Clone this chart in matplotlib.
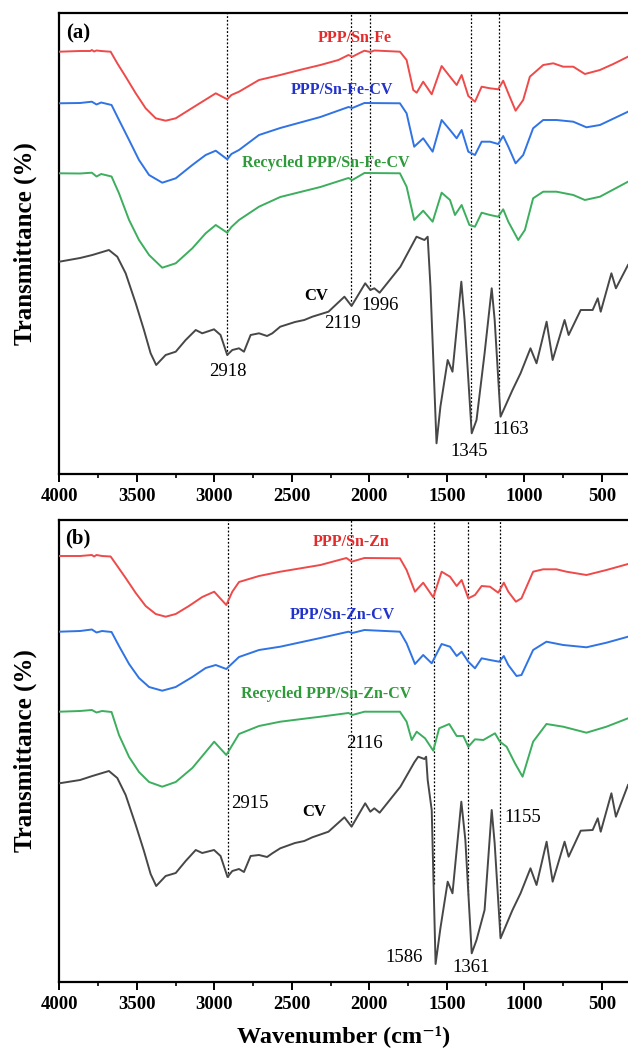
import numpy as np
import matplotlib
matplotlib.use("Agg")
import matplotlib.pyplot as plt
from matplotlib.ticker import MultipleLocator

plt.rcParams['font.family'] = ['Liberation Serif', 'DejaVu Serif']

# ---------------- Panel (a) data (wavenumber, stacked transmittance read as depth) -------------
a_red_wn = [4000, 3866, 3800, 3790, 3776, 3760, 3730, 3690, 3669, 3626, 3572, 3507, 3443, 3378, 3314,
            3249, 3164, 3078, 2991, 2917, 2890, 2841, 2712, 2575, 2450, 2316, 2200, 2135, 2110, 2050,
            2032, 1994, 1968, 1803, 1760, 1717, 1695, 1653, 1598, 1534, 1480, 1437, 1405, 1362, 1319,
            1276, 1222, 1169, 1137, 1104, 1057, 1008, 965, 879, 814, 750, 685, 610, 513, 427, 332]
a_red_y = [51.7, 51, 51, 50, 51.5, 50.5, 51, 51.5, 51.7, 63.3, 76.7, 93.3, 108.3, 118.3, 120.7,
           118.3, 110, 101.7, 93.3, 99.3, 95, 91.7, 80, 75, 70, 65, 60, 55, 56.7, 52,
           50.7, 52, 50.5, 51.7, 60, 90, 92.7, 81.7, 94.3, 66, 76.7, 85, 75, 96, 101.7,
           86.7, 88.3, 89.3, 80.7, 93.3, 110.7, 100, 76.7, 65, 63.3, 66.7, 66.7, 74, 70, 64, 56.7]

a_blue_wn = [4000, 3866, 3790, 3760, 3730, 3663, 3615, 3550, 3486, 3421, 3336, 3249, 3142, 3056, 2991,
             2917, 2890, 2841, 2712, 2575, 2316, 2135, 2110, 2032, 1803, 1760, 1711, 1653, 1592, 1534,
             1480, 1437, 1405, 1362, 1319, 1276, 1222, 1169, 1137, 1104, 1057, 1008, 944, 879, 793,
             685, 600, 513, 332]
a_blue_y = [103.3, 103, 101.7, 104.5, 102.5, 105, 120, 140, 160, 175, 182.7, 178.3, 165, 155, 150.7,
            159.3, 154, 150, 135, 128, 117, 107, 108, 103, 103.3, 113.3, 146.7, 138.3, 151.7, 120,
            130, 138.3, 130, 151.7, 155, 141.7, 141.7, 144, 136, 146.7, 163.3, 155, 128.3, 120, 120,
            121.7, 127.3, 125, 111.7]

a_green_wn = [4000, 3866, 3790, 3760, 3730, 3663, 3615, 3550, 3486, 3421, 3336, 3249, 3142, 3056, 2991,
              2917, 2890, 2841, 2712, 2575, 2316, 2135, 2110, 2032, 1803, 1760, 1711, 1653, 1592, 1534,
              1480, 1448, 1405, 1355, 1319, 1276, 1222, 1169, 1137, 1104, 1040, 997, 944, 879, 793,
              685, 610, 513, 332]
a_green_y = [173.3, 173.5, 172.7, 176.5, 174, 176.5, 193.3, 220, 240, 255, 267.7, 263.3, 248.3, 233.3, 225,
             232.7, 227, 220, 206.7, 197, 187, 178, 180, 173, 173.3, 186.7, 220, 210.7, 221.7, 192.7,
             200, 215, 205, 225, 226.7, 212.7, 215, 216.7, 209.3, 221.7, 240, 230, 198.3, 191.7, 191.7,
             195, 200, 196.7, 181.7]

a_cv_wn = [4000, 3866, 3787, 3680, 3626, 3572, 3507, 3454, 3411, 3375, 3314, 3249, 3185, 3120, 3078,
           3002, 2960, 2917, 2884, 2841, 2809, 2766, 2712, 2660, 2626, 2575, 2480, 2420, 2368, 2264,
           2161, 2115, 2027, 1994, 1968, 1934, 1800, 1696, 1645, 1624, 1606, 1567, 1542, 1495, 1464,
           1407, 1386, 1340, 1309, 1257, 1211, 1192, 1154, 1077, 1025, 961, 922, 857, 818, 741, 715,
           637, 560, 527, 508, 439, 410, 332]
a_cv_y = [261.7, 258, 255, 250, 256.7, 273.3, 303.3, 330, 353.3, 365, 355, 351.7, 340, 330, 333.3,
          329.3, 335, 355, 350, 348.3, 351.7, 335, 333.3, 336, 333.3, 326.7, 322, 320, 316.7, 311.7,
          296.7, 306, 283.3, 290, 288.3, 292.7, 266.7, 236.7, 240, 236.7, 286.7, 443.3, 406.7, 360, 371.7,
          281.7, 320, 433.3, 420, 353.3, 288.3, 320, 416.7, 390, 373.3, 348.3, 363.3, 321.7, 360, 320, 335,
          310, 310, 298.3, 311.7, 273.3, 288.3, 265]

# ---------------- Panel (b) data -------------
b_red_wn = [4000, 3866, 3790, 3776, 3760, 3724, 3669, 3626, 3572, 3507, 3443, 3378, 3314, 3249, 3164,
            3078, 3001, 2923, 2884, 2841, 2712, 2575, 2316, 2148, 2115, 2032, 1803, 1760, 1706, 1653,
            1588, 1534, 1480, 1437, 1405, 1362, 1319, 1276, 1222, 1169, 1133, 1104, 1055, 1019, 944,
            879, 793, 729, 600, 471, 332]
b_red_y = [556, 556, 555, 556.5, 555, 556, 556.5, 566, 578, 593, 606, 614, 616.7, 614, 606,
           597, 591.7, 605, 591.7, 582, 576, 571.7, 565, 558, 561.7, 558, 558.3, 570, 591.7, 582.7,
           597.3, 571.7, 576.7, 586, 580, 598.3, 595, 586, 586.7, 592.7, 582.7, 591.7, 601.7, 598.3, 571.7,
           569.3, 569.3, 571.7, 575, 570, 564]

b_blue_wn = [4000, 3866, 3790, 3760, 3724, 3663, 3615, 3550, 3486, 3421, 3336, 3249, 3142, 3056, 2991,
             2923, 2841, 2712, 2575, 2316, 2135, 2110, 2032, 1803, 1760, 1706, 1653, 1598, 1534,
             1480, 1437, 1405, 1362, 1319, 1276, 1222, 1163, 1133, 1104, 1051, 1019, 944, 858, 750,
             600, 471, 332]
b_blue_y = [631.7, 631, 629.5, 632.5, 631, 632, 646, 664, 678, 687, 690.7, 687, 677, 668, 665,
            669, 657, 650, 646.7, 638, 631.7, 633, 630, 631.7, 643.3, 664, 655, 663.3, 644,
            646.7, 656, 651.7, 661.7, 668.3, 658.3, 660, 661.7, 656, 665, 676, 675, 650, 641.7, 645,
            647.3, 642.7, 636.7]

b_green_wn = [4000, 3866, 3790, 3760, 3724, 3663, 3615, 3550, 3486, 3421, 3336, 3249, 3142, 3056, 3001,
              2923, 2841, 2712, 2575, 2316, 2135, 2110, 2032, 1803, 1760, 1727, 1695, 1641, 1588, 1550,
              1485, 1437, 1394, 1362, 1319, 1265, 1190, 1158, 1115, 1061, 1012, 944, 858, 750, 600,
              471, 332]
b_green_y = [711.7, 711, 710, 712.5, 711, 712, 735, 757, 772, 782, 786.7, 782, 768, 752, 741.7,
             755, 734, 726, 721.7, 716.7, 713, 715, 711.7, 711.7, 721.7, 740, 731.7, 738.3, 750.7, 728.3,
             724, 736, 736, 746.7, 739.3, 740, 733.3, 741.7, 746.7, 763.3, 776.7, 741.7, 724, 726.7, 732.7,
             726.7, 718.3]

b_cv_wn = [4000, 3866, 3787, 3680, 3626, 3572, 3507, 3454, 3411, 3375, 3314, 3249, 3185, 3120, 3078,
           3002, 2960, 2915, 2884, 2841, 2809, 2766, 2712, 2660, 2626, 2575, 2480, 2420, 2368, 2264,
           2161, 2115, 2027, 1994, 1968, 1934, 1800, 1709, 1685, 1645, 1634, 1624, 1598, 1573, 1542,
           1495, 1464, 1407, 1381, 1340, 1309, 1257, 1211, 1192, 1154, 1077, 1025, 961, 922, 857, 818,
           741, 715, 637, 560, 527, 508, 439, 410, 332]
b_cv_y = [783.3, 780, 776, 771, 778, 795, 825, 851, 874, 886, 876, 873, 861, 850, 853,
          850, 856, 877, 871, 869, 872, 856, 855, 857, 853.3, 848.3, 843, 841, 837.3, 831.7,
          817.3, 826.7, 803.3, 811.7, 808.3, 812.7, 786.7, 762, 756.7, 759, 756.7, 780, 810, 964, 928.3,
          881.7, 893.3, 801.7, 840, 953.3, 940, 910, 810, 843.3, 938.3, 910, 893.3, 868.3, 885, 841.7, 881.7,
          841.7, 856.7, 830.7, 830, 818.3, 831.7, 793.3, 816.7, 785]

a_peaks = [2918, 2119, 1996, 1345, 1163]
b_peaks = [2915, 2116, 1586, 1361, 1155]

a_names = ["PPP/Sn-Fe", "PPP/Sn-Fe-CV", "Recycled PPP/Sn-Fe-CV"]
b_names = ["PPP/Sn-Zn", "PPP/Sn-Zn-CV", "Recycled PPP/Sn-Zn-CV"]

line_colors = ['#ee4a4a', '#2f73e4', '#3cae5e', '#474747']
text_colors = ['#e42a2a', '#2233cc', '#2e9a3a']

W, H = 628, 1053
fig = plt.figure(figsize=(W / 100, H / 100), dpi=100)


def make_ax(top_px, bot_px):
    ax = fig.add_axes([59.3 / W, 1 - bot_px / H, 1 - 59.3 / W, (bot_px - top_px) / H])
    ax.set_xlim(4000, 332)
    ax.set_ylim(0, bot_px - top_px)
    ax.xaxis.set_major_locator(MultipleLocator(500))
    ax.xaxis.set_minor_locator(MultipleLocator(250))
    ax.tick_params(axis='x', which='major', direction='out', length=6, width=1.4,
                   labelsize=13.5, pad=4)
    ax.tick_params(axis='x', which='minor', direction='out', length=3.2, width=1.2)
    ax.set_yticks([])
    for lab in ax.get_xticklabels():
        lab.set_fontweight('bold')
    for s in ['left', 'bottom', 'top']:
        ax.spines[s].set_linewidth(1.6)
    ax.spines['right'].set_visible(False)
    ax.set_ylabel('Transmittance (%)', fontsize=18, fontweight='bold', labelpad=16)
    return ax


def depth_to_T(ylist, base):
    return base - np.array(ylist)


# panel (a)
axa = make_ax(13, 474)
a_curves = [(a_red_wn, a_red_y), (a_blue_wn, a_blue_y), (a_green_wn, a_green_y), (a_cv_wn, a_cv_y)]
for (wn, yy), c in zip(a_curves, line_colors):
    axa.plot(wn, depth_to_T(yy, 474), color=c, lw=1.4, zorder=3)
cvT = depth_to_T(a_cv_y, 474)
for p in a_peaks:
    yend = np.interp(p, a_cv_wn[::-1], cvT[::-1])
    axa.plot([p, p], [yend, 461], color='black', lw=0.9, ls=(0, (1.5, 1.5)), zorder=2)

axa.text(3879, 441, '(a)', fontsize=15, fontweight='bold', ha='center', va='center')
for name, c, (x, y) in zip(a_names, text_colors, [(2092, 436), (2176, 384), (2280, 311)]):
    axa.text(x, y, name, color=c, fontsize=11.5, fontweight='bold', ha='center', va='center')
axa.text(2345, 178, 'CV', fontsize=12, fontweight='bold', ha='center', va='center')
for t, (x, y) in zip(['2918', '2119', '1996', '1345', '1163'],
                     [(2912, 102), (2176, 151), (1931, 168), (1358, 23), (1087, 44)]):
    axa.text(x, y, t, fontsize=13.5, ha='center', va='center')

# panel (b)
axb = make_ax(520, 982)
b_curves = [(b_red_wn, b_red_y), (b_blue_wn, b_blue_y), (b_green_wn, b_green_y), (b_cv_wn, b_cv_y)]
for (wn, yy), c in zip(b_curves, line_colors):
    axb.plot(wn, depth_to_T(yy, 982), color=c, lw=1.4, zorder=3)
cvT = depth_to_T(b_cv_y, 982)
for p in b_peaks:
    yend = np.interp(p, b_cv_wn[::-1], cvT[::-1])
    axb.plot([p, p], [yend, 462], color='black', lw=0.9, ls=(0, (1.5, 1.5)), zorder=2)

axb.text(3879, 444, '(b)', fontsize=15, fontweight='bold', ha='center', va='center')
for name, c, (x, y) in zip(b_names, text_colors, [(2118, 440), (2176, 367), (2280, 288)]):
    axb.text(x, y, name, color=c, fontsize=11.5, fontweight='bold', ha='center', va='center')
axb.text(2358, 170, 'CV', fontsize=12, fontweight='bold', ha='center', va='center')
for t, (x, y) in zip(['2116', '2915', '1155', '1586', '1361'],
                     [(2030, 239), (2769, 179), (1012, 165), (1774, 25), (1347, 14)]):
    axb.text(x, y, t, fontsize=13.5, ha='center', va='center')

axb.set_xlabel('Wavenumber (cm\u207b\u00b9)', fontsize=17.5, fontweight='bold', labelpad=9)

fig.savefig('out.png', dpi=100)
